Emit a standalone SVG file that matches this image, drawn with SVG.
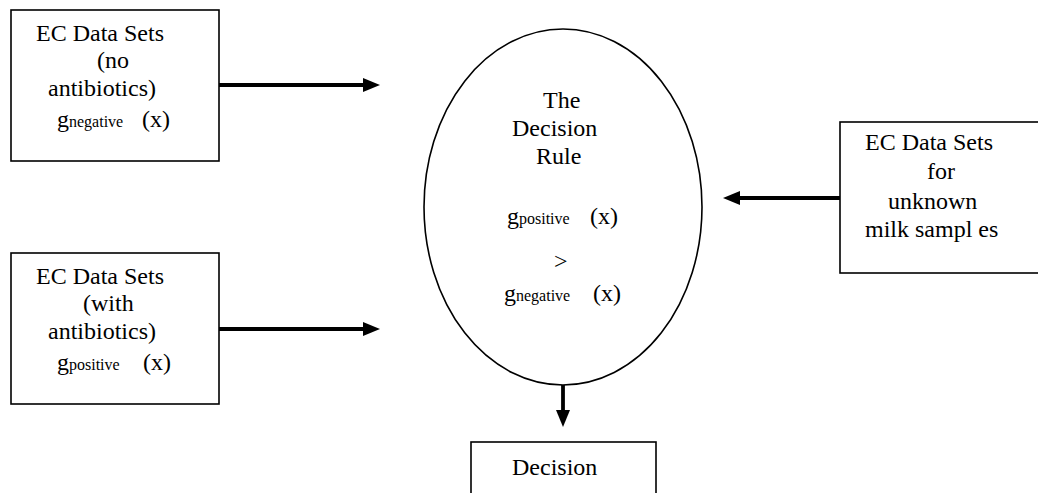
<svg xmlns="http://www.w3.org/2000/svg" width="1038" height="493" viewBox="0 0 1038 493">
<style>
.box{fill:#fff;stroke:#000;stroke-width:1.6}
.t{font-family:"Liberation Serif","Times New Roman",serif;font-size:24px;fill:#000}
.s{font-size:16px}
.c{stroke:#000;stroke-width:3.8;fill:none;marker-end:url(#ah)}
</style>
<defs>
<marker id="ah" markerUnits="userSpaceOnUse" markerWidth="17" markerHeight="14" refX="0" refY="7" orient="auto" overflow="visible">
<path d="M0,0 L17,7 L0,14 Z" fill="#000"/>
</marker>
</defs>
<rect width="1038" height="493" fill="#fff"/>
<g id="node-neg">
<rect class="box" x="11" y="10" width="208" height="151"/>
<text class="t" x="36" y="41">EC Data Sets</text>
<text class="t" x="97" y="68">(no</text>
<text class="t" x="48" y="96">antibiotics)</text>
<text class="t" x="57" y="127">g<tspan class="s">negative</tspan></text>
<text class="t" x="142" y="127">(x)</text>
</g>
<g id="node-pos">
<rect class="box" x="11" y="253" width="208" height="151"/>
<text class="t" x="36" y="284">EC Data Sets</text>
<text class="t" x="83" y="311">(with</text>
<text class="t" x="48" y="339">antibiotics)</text>
<text class="t" x="57" y="370">g<tspan class="s">positive</tspan></text>
<text class="t" x="143" y="370">(x)</text>
</g>
<g id="node-rule">
<ellipse class="box" cx="563" cy="207" rx="139" ry="178"/>
<text class="t" x="543" y="108">The</text>
<text class="t" x="512" y="136">Decision</text>
<text class="t" x="536" y="164">Rule</text>
<text class="t" x="507" y="224">g<tspan class="s">positive</tspan></text>
<text class="t" x="590" y="224">(x)</text>
<text class="t" x="554" y="269">&gt;</text>
<text class="t" x="504" y="301">g<tspan class="s">negative</tspan></text>
<text class="t" x="593" y="301">(x)</text>
</g>
<g id="node-unknown">
<rect class="box" x="840" y="122" width="210" height="151"/>
<text class="t" x="865" y="150">EC Data Sets</text>
<text class="t" x="927" y="179">for</text>
<text class="t" x="888" y="209">unknown</text>
<text class="t" x="865" y="237">milk sampl es</text>
</g>
<g id="node-decision">
<rect class="box" x="471" y="442" width="185" height="70"/>
<text class="t" x="512" y="475">Decision</text>
</g>
<g id="connectors">
<line class="c" x1="219" y1="85" x2="363" y2="85"/>
<line class="c" x1="219" y1="329" x2="363" y2="329"/>
<line class="c" x1="840" y1="198" x2="740" y2="198"/>
<line class="c" x1="563" y1="385" x2="563" y2="410"/>
</g>
</svg>
